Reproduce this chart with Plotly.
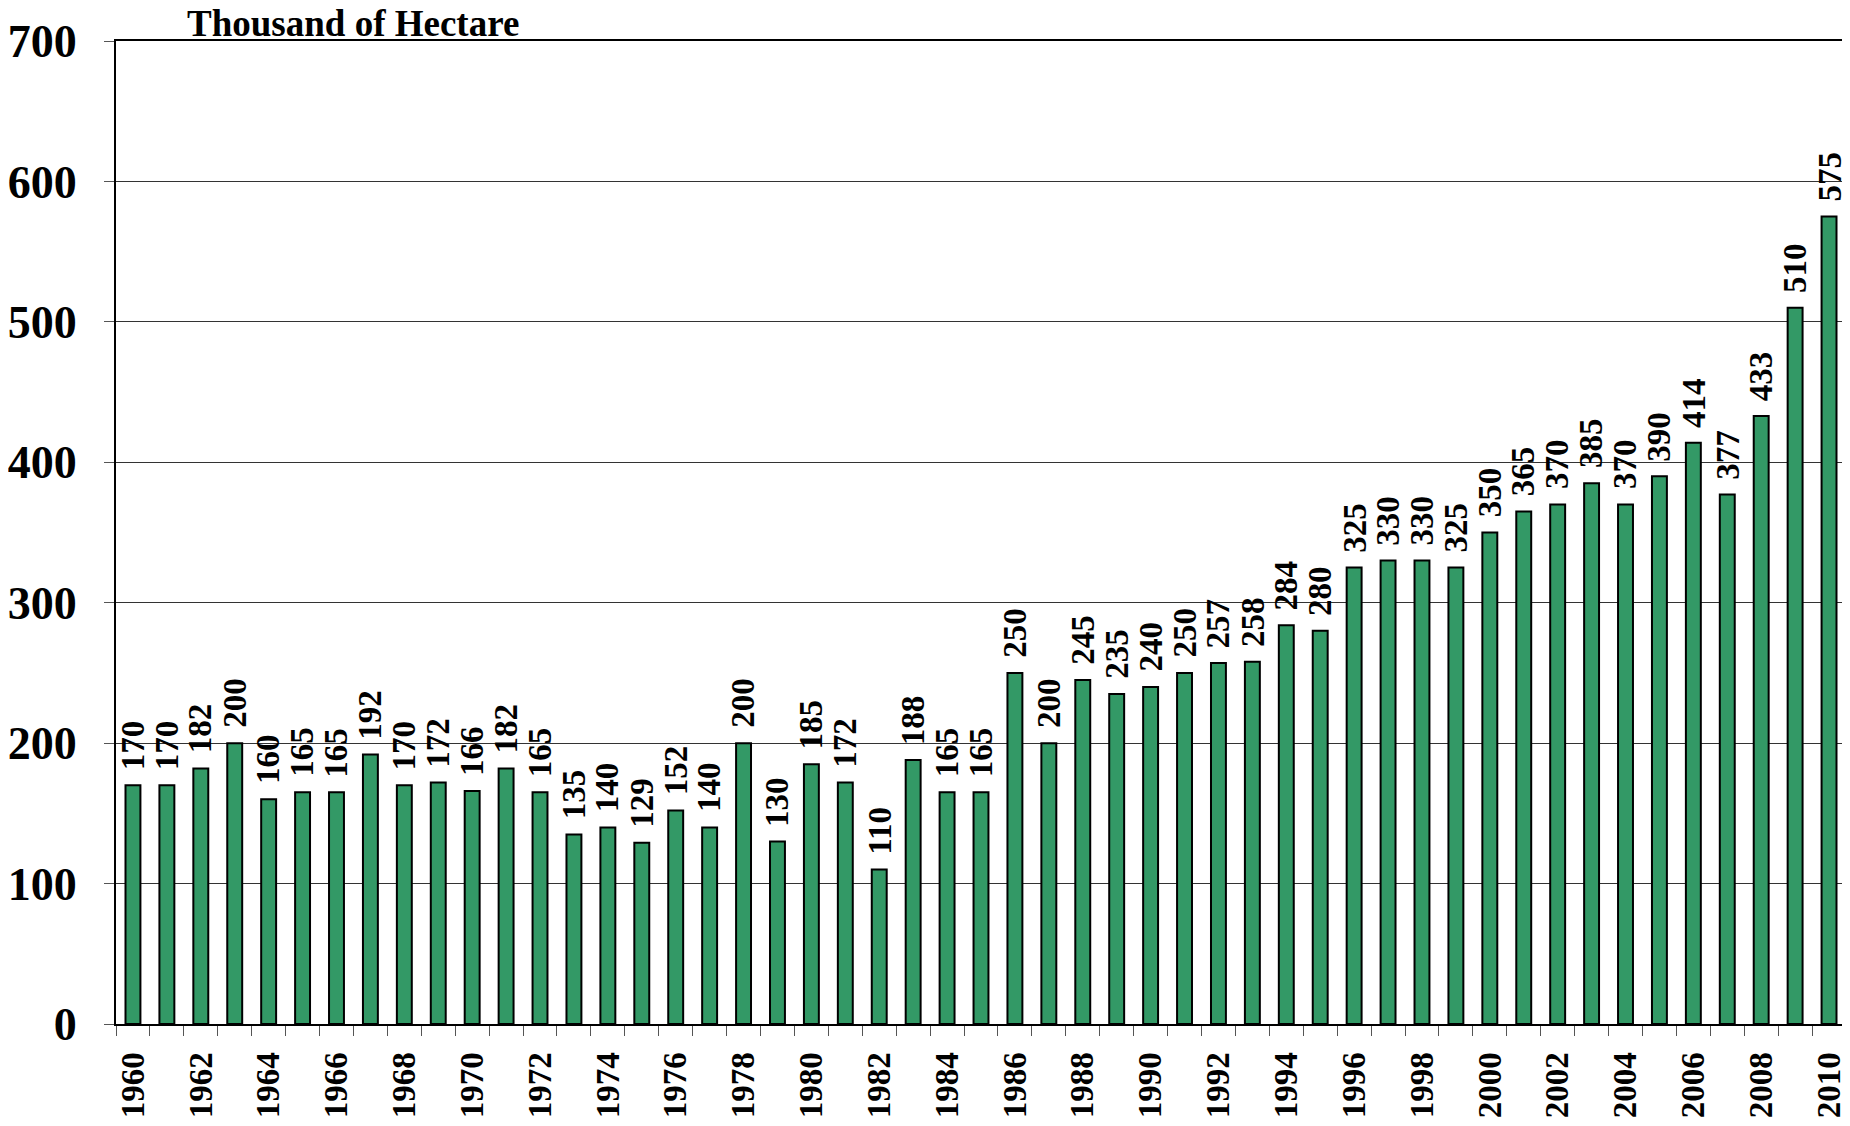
import plotly.graph_objects as go

years = list(range(1960, 2011))
values = [170, 170, 182, 200, 160, 165, 165, 192, 170, 172, 166, 182, 165, 135, 140, 129,
          152, 140, 200, 130, 185, 172, 110, 188, 165, 165, 250, 200, 245, 235, 240, 250,
          257, 258, 284, 280, 325, 330, 330, 325, 350, 365, 370, 385, 370, 390, 414, 377,
          433, 510, 575]
y_ticks = [0, 100, 200, 300, 400, 500, 600, 700]
title_text = "Thousand of Hectare"

cats = [str(y) for y in years]
tick_text = [f"<b>{y}</b>" if y % 2 == 0 else "" for y in years]

FONT = "Liberation Serif"

fig = go.Figure()
fig.add_trace(go.Bar(
    x=cats, y=values,
    marker=dict(color="#339966", line=dict(color="black", width=2)),
    width=0.44,
    hoverinfo="x+y",
))

annotations = []
for i, v in enumerate(values):
    annotations.append(dict(
        x=i, y=v, xref="x", yref="y", text=f"<b>{v}</b>", showarrow=False,
        textangle=-90, xanchor="center", yanchor="bottom", yshift=13,
        font=dict(family=FONT, size=33, color="black"),
    ))
annotations.append(dict(
    x=0.04, y=1, xref="paper", yref="paper", text=f"<b>{title_text}</b>",
    showarrow=False, xanchor="left", yanchor="bottom", yshift=-5,
    font=dict(family=FONT, size=37, color="black"),
))

# the page body adds an 8px margin; size and margins compensate for it
fig.update_layout(
    width=1842, height=1118,
    margin=dict(l=108, r=4, t=33, b=102),
    paper_bgcolor="white", plot_bgcolor="white",
    showlegend=False,
    annotations=annotations,
)
fig.update_xaxes(
    type="category", tickvals=cats, ticktext=tick_text, tickangle=-90,
    tickson="boundaries", ticks="outside", ticklen=10, tickcolor="#555555", tickwidth=1,
    tickfont=dict(family=FONT, size=33, color="black"),
    showline=True, linecolor="black", linewidth=2, mirror=True,
    showgrid=False, range=[-0.5, len(cats) - 0.5], ticklabelstandoff=13,
    automargin=False,
)
fig.update_yaxes(
    range=[0, 700], tickvals=y_ticks, ticktext=[f"<b>{t}</b>" for t in y_ticks],
    ticks="outside", ticklen=10, tickcolor="#555555", tickwidth=1,
    tickfont=dict(family=FONT, size=46, color="black"),
    showline=True, linecolor="black", linewidth=2, mirror=True,
    showgrid=True, gridcolor="#333333", gridwidth=1, zeroline=False,
    ticklabelstandoff=18, automargin=False,
)

fig.write_html("out.html")
